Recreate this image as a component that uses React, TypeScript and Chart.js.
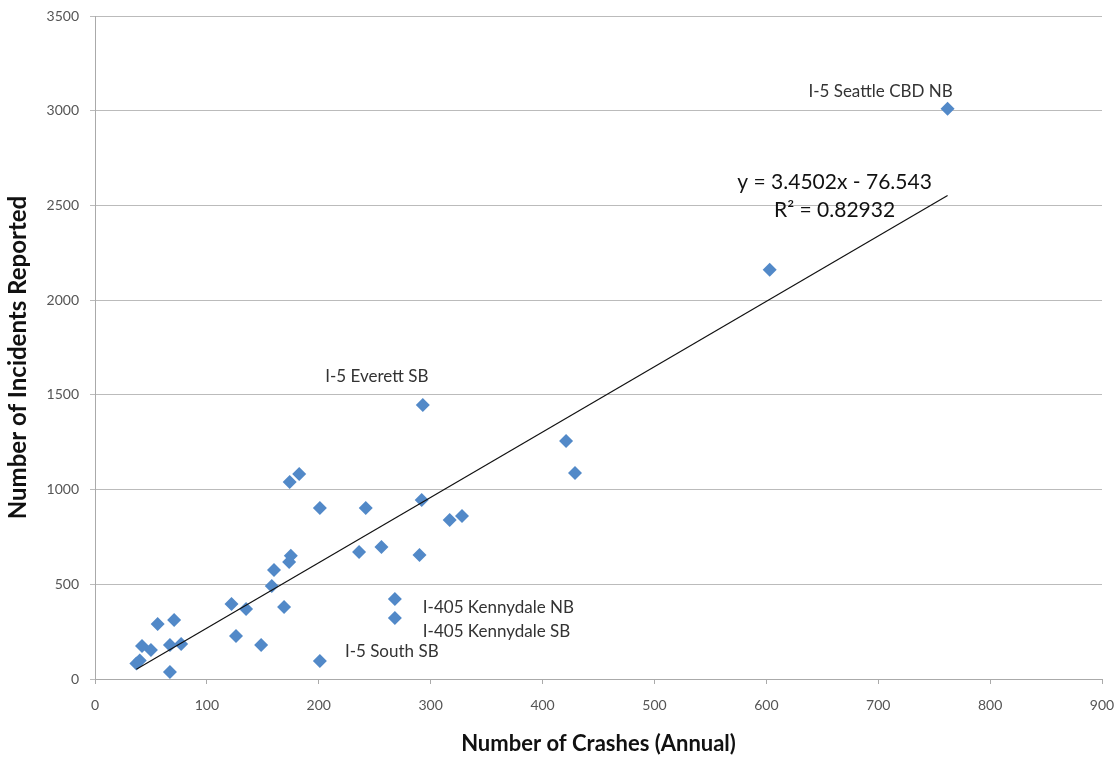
import React, { useEffect, useRef } from "react";
import { Chart, registerables } from "chart.js";

Chart.register(...registerables);

// Annual crashes (x) and incidents reported (y) per corridor segment
const crashes = [
  762, 603, 421, 429, 293, 182.5, 174, 201, 242, 292, 317, 328, 236, 256, 290,
  175, 173.5, 160, 158, 122, 135, 169, 268, 268, 126, 148.5, 201, 70.7, 56, 42,
  50, 67, 77, 37, 40, 67,
];
const incidents = [
  3010, 2160, 1257, 1088, 1447, 1082, 1040, 903, 903, 945, 840, 861, 671, 697,
  655, 650, 618, 576, 491, 396, 370, 380, 422, 322, 227, 180, 95, 311, 290, 174,
  153, 180, 185, 82, 98, 37,
];
const pointNames = [
  "I-5 Seattle CBD NB", "", "", "", "I-5 Everett SB", "", "", "", "", "", "", "",
  "", "", "", "", "", "", "", "", "", "", "I-405 Kennydale NB",
  "I-405 Kennydale SB", "", "", "I-5 South SB", "", "", "", "", "", "", "", "", "",
];

const trendSlope = 3.4502;
const trendIntercept = -76.543;
const trendR2 = "0.82932";

const xTicks = [0, 100, 200, 300, 400, 500, 600, 700, 800, 900];
const yTicks = [0, 500, 1000, 1500, 2000, 2500, 3000, 3500];

const xTitle = "Number of Crashes (Annual)";
const yTitle = "Number of Incidents Reported";

const FONT = "Lato, 'Open Sans', sans-serif";

// label placement relative to its point (pixels)
const labelPlacement: Record<string, { dx: number; dy: number; align: CanvasTextAlign }> = {
  "I-5 Seattle CBD NB": { dx: -67, dy: -17, align: "center" },
  "I-5 Everett SB": { dx: -46, dy: -28, align: "center" },
  "I-405 Kennydale NB": { dx: 28, dy: 8, align: "left" },
  "I-405 Kennydale SB": { dx: 28, dy: 14, align: "left" },
  "I-5 South SB": { dx: 25, dy: -9, align: "left" },
};

export default function App() {
  const ref = useRef<HTMLCanvasElement | null>(null);

  useEffect(() => {
    document.body.style.margin = "0";
    const canvas = ref.current;
    if (!canvas) return;

    const xMin = Math.min(...crashes);
    const xMax = Math.max(...crashes);
    const trend = [
      { x: xMin, y: trendSlope * xMin + trendIntercept },
      { x: xMax, y: trendSlope * xMax + trendIntercept },
    ];

    const labelPlugin = {
      id: "labels",
      afterDatasetsDraw(chart: any) {
        const ctx = chart.ctx;
        const xs = chart.scales.x;
        const ys = chart.scales.y;
        ctx.save();
        ctx.fillStyle = "#333";
        ctx.font = `17px ${FONT}`;
        ctx.textBaseline = "middle";
        pointNames.forEach((name, i) => {
          if (!name) return;
          const p = labelPlacement[name];
          const px = xs.getPixelForValue(crashes[i]);
          const py = ys.getPixelForValue(incidents[i]);
          ctx.textAlign = p.align;
          ctx.fillText(name, px + p.dx, py + p.dy);
        });
        // trendline equation
        const ex = xs.getPixelForValue(661);
        const ey = ys.getPixelForValue(2620);
        ctx.fillStyle = "#111";
        ctx.font = `21px ${FONT}`;
        ctx.textAlign = "center";
        const sign = trendIntercept < 0 ? "-" : "+";
        ctx.fillText(`y = ${trendSlope}x ${sign} ${Math.abs(trendIntercept)}`, ex, ey);
        ctx.fillText(`R² = ${trendR2}`, ex, ey + 28);
        // y axis title
        ctx.save();
        ctx.translate(18, (chart.chartArea.top + chart.chartArea.bottom) / 2 + 10);
        ctx.rotate(-Math.PI / 2);
        ctx.font = `bold 24px ${FONT}`;
        ctx.fillStyle = "#111";
        ctx.textAlign = "center";
        ctx.fillText(yTitle, 0, 0);
        ctx.restore();
        ctx.restore();
      },
    };

    const chart = new Chart(canvas, {
      type: "scatter",
      data: {
        datasets: [
          {
            label: "Incidents",
            data: crashes.map((x, i) => ({ x, y: incidents[i] })),
            pointStyle: "rectRot",
            pointRadius: 7,
            backgroundColor: "#5289c8",
            borderColor: "#5289c8",
            borderWidth: 0,
            order: 2,
          },
          {
            label: "Trend",
            type: "line",
            data: trend,
            borderColor: "#111",
            borderWidth: 1.2,
            pointRadius: 0,
            fill: false,
            order: 1,
          },
        ],
      },
      options: {
        animation: false,
        responsive: false,
        layout: { padding: 0 },
        plugins: {
          legend: { display: false },
          tooltip: { enabled: false },
        },
        scales: {
          x: {
            type: "linear",
            min: 0,
            max: 900,
            afterBuildTicks(scale: any) {
              scale.ticks = xTicks.map((v) => ({ value: v }));
            },
            afterFit(scale: any) {
              scale.height = 81;
              scale.paddingRight = 14;
              scale.paddingLeft = 0;
            },
            grid: {
              drawOnChartArea: false,
              drawTicks: true,
              tickLength: 5,
              color: "#aaa",
            },
            border: { color: "#aaa" },
            ticks: {
              color: "#555",
              font: { family: FONT, size: 14 },
              padding: 13,
              maxRotation: 0,
              callback: (v: any) => String(v),
            },
            title: {
              display: true,
              text: xTitle,
              color: "#111",
              font: { family: FONT, size: 22, weight: "bold" },
              padding: { top: 0, bottom: 3 },
            },
          },
          y: {
            type: "linear",
            min: 0,
            max: 3500,
            afterBuildTicks(scale: any) {
              scale.ticks = yTicks.map((v) => ({ value: v }));
            },
            afterFit(scale: any) {
              scale.width = 95;
              scale.paddingTop = 16;
              scale.paddingBottom = 0;
            },
            grid: {
              drawOnChartArea: true,
              drawTicks: true,
              tickLength: 5,
              color: "#bbb",
            },
            border: { color: "#aaa" },
            ticks: {
              color: "#555",
              font: { family: FONT, size: 14 },
              padding: 11,
              callback: (v: any) => String(v),
            },
          },
        },
      } as any,
      plugins: [labelPlugin],
    });

    return () => chart.destroy();
  }, []);

  return (
    <div style={{ width: 1116, height: 760, background: "#fff" }}>
      <canvas ref={ref} width={1116} height={760} />
    </div>
  );
}
